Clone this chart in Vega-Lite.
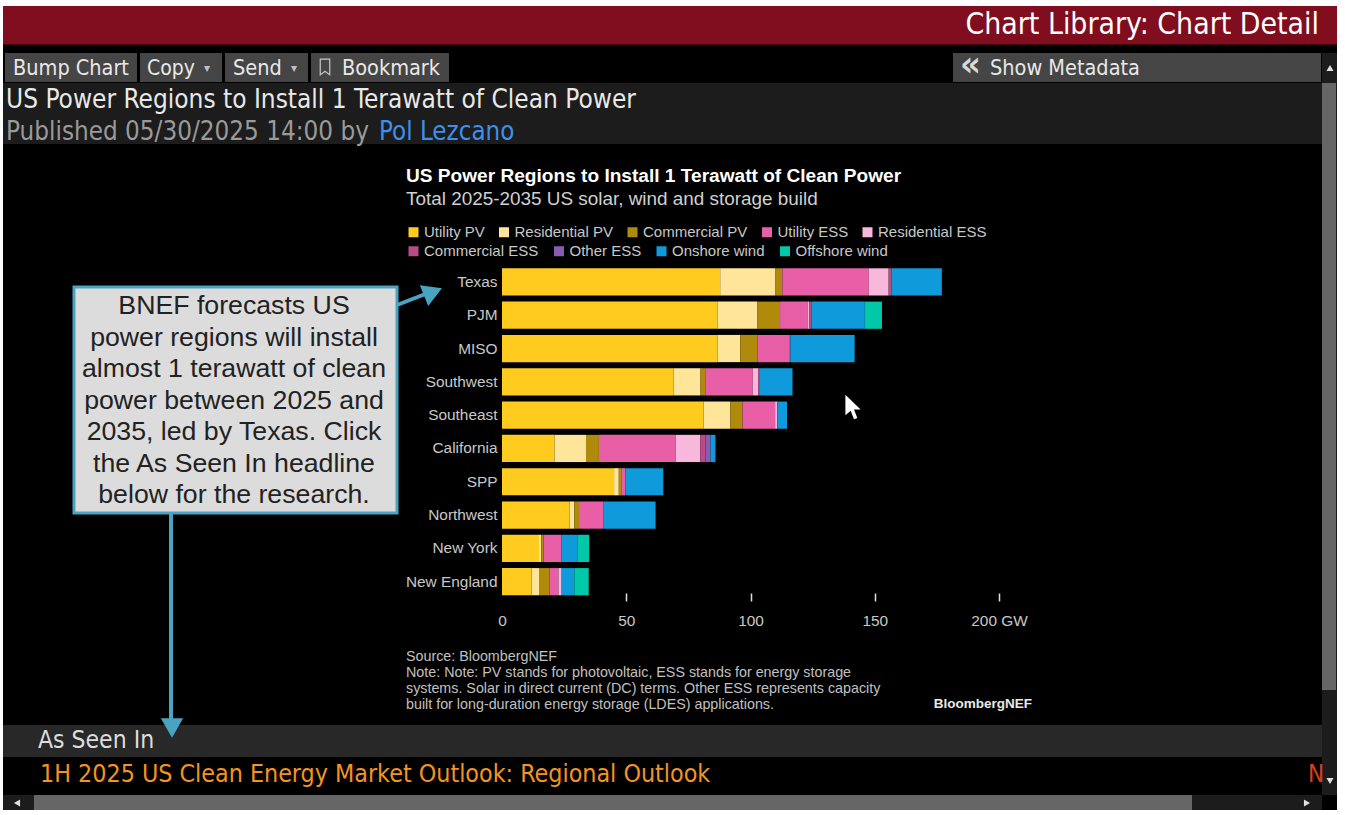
{"$schema":"https://vega.github.io/schema/vega-lite/v6.json","width":1345,"height":815,"padding":0,"autosize":{"type":"none"},"background":"#ffffff","view":{"stroke":null},
"resolve":{"legend":{"color":"independent"}},
"datasets":{"bars":[{"region":"Texas","type":"Utility PV","ord":1,"gw":87.8},{"region":"Texas","type":"Residential PV","ord":2,"gw":22.1},{"region":"Texas","type":"Commercial PV","ord":3,"gw":2.9},{"region":"Texas","type":"Utility ESS","ord":4,"gw":34.8},{"region":"Texas","type":"Residential ESS","ord":5,"gw":8.0},{"region":"Texas","type":"Commercial ESS","ord":6,"gw":1.1},{"region":"Texas","type":"Onshore wind","ord":8,"gw":20.3},
{"region":"PJM","type":"Utility PV","ord":1,"gw":86.7},{"region":"PJM","type":"Residential PV","ord":2,"gw":16.1},{"region":"PJM","type":"Commercial PV","ord":3,"gw":9.1},{"region":"PJM","type":"Utility ESS","ord":4,"gw":11.2},{"region":"PJM","type":"Residential ESS","ord":5,"gw":0.6},{"region":"PJM","type":"Commercial ESS","ord":6,"gw":0.9},{"region":"PJM","type":"Onshore wind","ord":8,"gw":21.4},{"region":"PJM","type":"Offshore wind","ord":9,"gw":6.9},
{"region":"MISO","type":"Utility PV","ord":1,"gw":86.7},{"region":"MISO","type":"Residential PV","ord":2,"gw":9.2},{"region":"MISO","type":"Commercial PV","ord":3,"gw":6.9},{"region":"MISO","type":"Utility ESS","ord":4,"gw":12.8},{"region":"MISO","type":"Residential ESS","ord":5,"gw":0.2},{"region":"MISO","type":"Commercial ESS","ord":6,"gw":0.2},{"region":"MISO","type":"Onshore wind","ord":8,"gw":25.9},
{"region":"Southwest","type":"Utility PV","ord":1,"gw":69.0},{"region":"Southwest","type":"Residential PV","ord":2,"gw":10.9},{"region":"Southwest","type":"Commercial PV","ord":3,"gw":1.9},{"region":"Southwest","type":"Utility ESS","ord":4,"gw":19.1},{"region":"Southwest","type":"Residential ESS","ord":5,"gw":2.3},{"region":"Southwest","type":"Commercial ESS","ord":6,"gw":0.6},{"region":"Southwest","type":"Onshore wind","ord":8,"gw":13.1},
{"region":"Southeast","type":"Utility PV","ord":1,"gw":81.1},{"region":"Southeast","type":"Residential PV","ord":2,"gw":10.8},{"region":"Southeast","type":"Commercial PV","ord":3,"gw":4.9},{"region":"Southeast","type":"Utility ESS","ord":4,"gw":13.1},{"region":"Southeast","type":"Residential ESS","ord":5,"gw":0.9},{"region":"Southeast","type":"Commercial ESS","ord":6,"gw":0.2},{"region":"Southeast","type":"Onshore wind","ord":8,"gw":3.7},
{"region":"California","type":"Utility PV","ord":1,"gw":21.2},{"region":"California","type":"Residential PV","ord":2,"gw":12.6},{"region":"California","type":"Commercial PV","ord":3,"gw":5.2},{"region":"California","type":"Utility ESS","ord":4,"gw":30.9},{"region":"California","type":"Residential ESS","ord":5,"gw":9.9},{"region":"California","type":"Commercial ESS","ord":6,"gw":2.1},{"region":"California","type":"Other ESS","ord":7,"gw":2.0},{"region":"California","type":"Onshore wind","ord":8,"gw":2.0},
{"region":"SPP","type":"Utility PV","ord":1,"gw":45.1},{"region":"SPP","type":"Residential PV","ord":2,"gw":1.9},{"region":"SPP","type":"Commercial PV","ord":3,"gw":1.0},{"region":"SPP","type":"Utility ESS","ord":4,"gw":1.7},{"region":"SPP","type":"Onshore wind","ord":8,"gw":15.2},
{"region":"Northwest","type":"Utility PV","ord":1,"gw":27.2},{"region":"Northwest","type":"Residential PV","ord":2,"gw":1.9},{"region":"Northwest","type":"Commercial PV","ord":3,"gw":1.9},{"region":"Northwest","type":"Utility ESS","ord":4,"gw":9.9},{"region":"Northwest","type":"Onshore wind","ord":8,"gw":20.9},
{"region":"New York","type":"Utility PV","ord":1,"gw":14.9},{"region":"New York","type":"Residential PV","ord":2,"gw":0.9},{"region":"New York","type":"Commercial PV","ord":3,"gw":0.9},{"region":"New York","type":"Utility ESS","ord":4,"gw":7.2},{"region":"New York","type":"Onshore wind","ord":8,"gw":6.6},{"region":"New York","type":"Offshore wind","ord":9,"gw":4.6},
{"region":"New England","type":"Utility PV","ord":1,"gw":11.9},{"region":"New England","type":"Residential PV","ord":2,"gw":3.0},{"region":"New England","type":"Commercial PV","ord":3,"gw":4.2},{"region":"New England","type":"Utility ESS","ord":4,"gw":3.6},{"region":"New England","type":"Residential ESS","ord":5,"gw":1.3},{"region":"New England","type":"Onshore wind","ord":8,"gw":5.1},{"region":"New England","type":"Offshore wind","ord":9,"gw":5.8}]},
"title":{"text":"US Power Regions to Install 1 Terawatt of Clean Power","subtitle":"Total 2025-2035 US solar, wind and storage build","anchor":"start","frame":"group","dx":406,"dy":209,"font":"Liberation Sans","fontSize":19.1,"fontWeight":"bold","color":"#ffffff","subtitleFont":"Liberation Sans","subtitleFontSize":18.9,"subtitleColor":"#d0d0d0","subtitlePadding":4,"orient":"top","offset":0},
"layer":[
{"data":{"values":[{"part":"window"}]},"mark":{"type":"rect","color":"#000000"},"encoding":{"x":{"value":3},"x2":{"value":1337},"y":{"value":44},"y2":{"value":810}}},
{"data":{"values":[{"part":"title bar"}]},"mark":{"type":"rect","color":"#800E1F"},"encoding":{"x":{"value":3},"x2":{"value":1337},"y":{"value":6},"y2":{"value":44.5}}},
{"data":{"values":[{"part":"Bump"}]},"mark":{"type":"rect","color":"#454545"},"encoding":{"x":{"value":5},"x2":{"value":137},"y":{"value":53},"y2":{"value":82}}},
{"data":{"values":[{"part":"Copy"}]},"mark":{"type":"rect","color":"#454545"},"encoding":{"x":{"value":140},"x2":{"value":222},"y":{"value":53},"y2":{"value":82}}},
{"data":{"values":[{"part":"Send"}]},"mark":{"type":"rect","color":"#454545"},"encoding":{"x":{"value":225},"x2":{"value":308},"y":{"value":53},"y2":{"value":82}}},
{"data":{"values":[{"part":"Bookmark"}]},"mark":{"type":"rect","color":"#454545"},"encoding":{"x":{"value":311},"x2":{"value":449},"y":{"value":53},"y2":{"value":82}}},
{"data":{"values":[{"part":"Metadata"}]},"mark":{"type":"rect","color":"#454545"},"encoding":{"x":{"value":953},"x2":{"value":1321},"y":{"value":53},"y2":{"value":82}}},
{"data":{"values":[{"part":"header strip"}]},"mark":{"type":"rect","color":"#1C1C1C"},"encoding":{"x":{"value":3},"x2":{"value":1322},"y":{"value":83},"y2":{"value":144}}},
{"data":{"values":[{"part":"seen strip"}]},"mark":{"type":"rect","color":"#282828"},"encoding":{"x":{"value":3},"x2":{"value":1322},"y":{"value":725},"y2":{"value":757}}},
{"data":{"values":[{"part":"v track"}]},"mark":{"type":"rect","color":"#1C1C1C"},"encoding":{"x":{"value":1322},"x2":{"value":1337},"y":{"value":53},"y2":{"value":795}}},
{"data":{"values":[{"part":"v thumb"}]},"mark":{"type":"rect","color":"#666666"},"encoding":{"x":{"value":1322},"x2":{"value":1336},"y":{"value":83},"y2":{"value":690}}},
{"data":{"values":[{"part":"h track"}]},"mark":{"type":"rect","color":"#1C1C1C"},"encoding":{"x":{"value":3},"x2":{"value":1322},"y":{"value":795},"y2":{"value":810}}},
{"data":{"values":[{"part":"h thumb"}]},"mark":{"type":"rect","color":"#666666"},"encoding":{"x":{"value":34},"x2":{"value":1192},"y":{"value":795},"y2":{"value":810}}},
{"data":{"values":[{"part":"up"}]},"mark":{"type":"point","shape":"triangle-up","filled":true,"color":"#e0e0e0","size":50,"opacity":1},"encoding":{"x":{"value":1330},"y":{"value":68}}},
{"data":{"values":[{"part":"down"}]},"mark":{"type":"point","shape":"triangle-down","filled":true,"color":"#e0e0e0","size":50,"opacity":1},"encoding":{"x":{"value":1330},"y":{"value":781}}},
{"data":{"values":[{"part":"left"}]},"mark":{"type":"point","shape":"triangle-left","filled":true,"color":"#e0e0e0","size":50,"opacity":1},"encoding":{"x":{"value":17},"y":{"value":803}}},
{"data":{"values":[{"part":"right"}]},"mark":{"type":"point","shape":"triangle-right","filled":true,"color":"#e0e0e0","size":50,"opacity":1},"encoding":{"x":{"value":1307},"y":{"value":803}}},
{"data":{"values":[{"label":"Chart Library: Chart Detail"}]},"mark":{"type":"text","font":"DejaVu Sans Condensed","fontSize":29.9,"color":"#ffffff","align":"right","baseline":"middle"},"encoding":{"x":{"value":1319},"y":{"value":25},"text":{"field":"label"}}},
{"data":{"values":[{"label":"Bump Chart"}]},"mark":{"type":"text","font":"DejaVu Sans Condensed","fontSize":21.5,"color":"#e8e8e8","align":"left","baseline":"middle"},"encoding":{"x":{"value":13},"y":{"value":68.5},"text":{"field":"label"}}},
{"data":{"values":[{"label":"Copy"}]},"mark":{"type":"text","font":"DejaVu Sans Condensed","fontSize":21,"color":"#e8e8e8","align":"left","baseline":"middle"},"encoding":{"x":{"value":147},"y":{"value":68.5},"text":{"field":"label"}}},
{"data":{"values":[{"label":"Send"}]},"mark":{"type":"text","font":"DejaVu Sans Condensed","fontSize":21.5,"color":"#e8e8e8","align":"left","baseline":"middle"},"encoding":{"x":{"value":233},"y":{"value":68.5},"text":{"field":"label"}}},
{"data":{"values":[{"label":"Bookmark"}]},"mark":{"type":"text","font":"DejaVu Sans Condensed","fontSize":21.5,"color":"#e8e8e8","align":"left","baseline":"middle"},"encoding":{"x":{"value":342},"y":{"value":68.5},"text":{"field":"label"}}},
{"data":{"values":[{"label":"Show Metadata"}]},"mark":{"type":"text","font":"DejaVu Sans Condensed","fontSize":21.5,"color":"#e8e8e8","align":"left","baseline":"middle"},"encoding":{"x":{"value":990},"y":{"value":68.5},"text":{"field":"label"}}},
{"data":{"values":[{"label":"«"}]},"mark":{"type":"text","font":"DejaVu Sans Condensed","fontSize":36,"fontWeight":"bold","color":"#d8d8d8","align":"left","baseline":"middle"},"encoding":{"x":{"value":960},"y":{"value":65},"text":{"field":"label"}}},
{"data":{"values":[{"label":"▾"}]},"mark":{"type":"text","font":"DejaVu Sans","fontSize":12,"color":"#c0c0c0","align":"center","baseline":"middle"},"encoding":{"x":{"value":207},"y":{"value":68},"text":{"field":"label"}}},
{"data":{"values":[{"label":"▾"}]},"mark":{"type":"text","font":"DejaVu Sans","fontSize":12,"color":"#c0c0c0","align":"center","baseline":"middle"},"encoding":{"x":{"value":294},"y":{"value":68},"text":{"field":"label"}}},
{"data":{"values":[{"part":"bookmark icon"}]},"mark":{"type":"point","shape":"M-0.6,-1L0.6,-1L0.6,1L0,0.55L-0.6,1Z","filled":false,"color":"#c8c8c8","strokeWidth":1.2,"size":250,"opacity":1},"encoding":{"x":{"value":325},"y":{"value":67}}},
{"data":{"values":[{"label":"US Power Regions to Install 1 Terawatt of Clean Power"}]},"mark":{"type":"text","font":"DejaVu Sans Condensed","fontSize":26,"color":"#e8e8e8","align":"left","baseline":"middle"},"encoding":{"x":{"value":6},"y":{"value":100},"text":{"field":"label"}}},
{"data":{"values":[{"label":"Published 05/30/2025 14:00 by"}]},"mark":{"type":"text","font":"DejaVu Sans Condensed","fontSize":25.8,"color":"#9a9a9a","align":"left","baseline":"middle"},"encoding":{"x":{"value":6},"y":{"value":132},"text":{"field":"label"}}},
{"data":{"values":[{"label":"Pol Lezcano"}]},"mark":{"type":"text","font":"DejaVu Sans Condensed","fontSize":25.7,"color":"#3f8fef","align":"left","baseline":"middle"},"encoding":{"x":{"value":379},"y":{"value":132},"text":{"field":"label"}}},
{"data":{"values":[{"label":"As Seen In"}]},"mark":{"type":"text","font":"DejaVu Sans Condensed","fontSize":24.5,"color":"#dddddd","align":"left","baseline":"middle"},"encoding":{"x":{"value":38},"y":{"value":741},"text":{"field":"label"}}},
{"data":{"values":[{"label":"1H 2025 US Clean Energy Market Outlook: Regional Outlook"}]},"mark":{"type":"text","font":"DejaVu Sans Condensed","fontSize":24.8,"color":"#F39420","align":"left","baseline":"middle"},"encoding":{"x":{"value":40},"y":{"value":775},"text":{"field":"label"}}},
{"data":{"values":[{"label":"N"}]},"mark":{"type":"text","font":"DejaVu Sans Condensed","fontSize":24,"color":"#D8401C","align":"left","baseline":"middle"},"encoding":{"x":{"value":1308},"y":{"value":775},"text":{"field":"label"}}},
{"data":{"name":"bars"},
"transform":[{"stack":"gw","groupby":["region"],"sort":[{"field":"ord","order":"ascending"}],"as":["gw_start","gw_end"]},{"filter":{"field":"type","oneOf":["Utility PV","Residential PV","Commercial PV","Utility ESS","Residential ESS"]}}],
"mark":{"type":"bar"},
"encoding":{
"x":{"field":"gw_start","type":"quantitative","title":null,"scale":{"domain":[0,200],"range":[502,999],"nice":false,"zero":true},"axis":{"values":[0,50,100,150,200],"grid":false,"domain":false,"zindex":1,"offset":-222,"tickSize":8,"tickWidth":1.5,"tickColor":"#dddddd","tickOpacity":{"condition":{"test":"datum.value===0","value":0},"value":1},"labelPadding":12,"labelFlush":false,"labelFont":"Liberation Sans","labelFontSize":15.4,"labelColor":"#c8c8c8","labelExpr":"datum.value===200 ? '200 GW' : datum.label","title":null}},
"x2":{"field":"gw_end"},
"y":{"field":"region","type":"nominal","title":null,"sort":["Texas","PJM","MISO","Southwest","Southeast","California","SPP","Northwest","New York","New England"],"scale":{"domain":["Texas","PJM","MISO","Southwest","Southeast","California","SPP","Northwest","New York","New England"],"range":[268.3,595.3],"paddingInner":0.183,"paddingOuter":0},"axis":{"domain":false,"ticks":false,"zindex":1,"offset":-497,"labelPadding":0,"labelFont":"Liberation Sans","labelFontSize":15.4,"labelColor":"#c8c8c8","title":null}},
"color":{"field":"type","type":"nominal","scale":{"domain":["Utility PV","Residential PV","Commercial PV","Utility ESS","Residential ESS","Commercial ESS","Other ESS","Onshore wind","Offshore wind"],"range":["#FFCB1F","#FFE599","#B08A0A","#E85FA8","#F7B8DC","#B84C85","#8A5CB0","#0E9ADB","#00C8A8"]},"legend":{"orient":"none","direction":"horizontal","legendX":406,"legendY":224.5,"title":null,"values":["Utility PV","Residential PV","Commercial PV","Utility ESS","Residential ESS"],"symbolType":"square","symbolSize":100,"symbolStrokeWidth":0,"labelFont":"Liberation Sans","labelFontSize":15,"labelColor":"#c8c8c8","labelOffset":3,"columnPadding":11.5}}}},
{"data":{"name":"bars"},
"transform":[{"stack":"gw","groupby":["region"],"sort":[{"field":"ord","order":"ascending"}],"as":["gw_start","gw_end"]},{"filter":{"field":"type","oneOf":["Commercial ESS","Other ESS","Onshore wind","Offshore wind"]}}],
"mark":{"type":"bar"},
"encoding":{
"x":{"field":"gw_start","type":"quantitative","title":null,"scale":{"domain":[0,200],"range":[502,999],"nice":false,"zero":true},"axis":{"values":[0,50,100,150,200],"grid":false,"domain":false,"zindex":1,"offset":-222,"tickSize":8,"tickWidth":1.5,"tickColor":"#dddddd","tickOpacity":{"condition":{"test":"datum.value===0","value":0},"value":1},"labelPadding":12,"labelFlush":false,"labelFont":"Liberation Sans","labelFontSize":15.4,"labelColor":"#c8c8c8","labelExpr":"datum.value===200 ? '200 GW' : datum.label","title":null}},
"x2":{"field":"gw_end"},
"y":{"field":"region","type":"nominal","title":null,"sort":["Texas","PJM","MISO","Southwest","Southeast","California","SPP","Northwest","New York","New England"],"scale":{"domain":["Texas","PJM","MISO","Southwest","Southeast","California","SPP","Northwest","New York","New England"],"range":[268.3,595.3],"paddingInner":0.183,"paddingOuter":0},"axis":{"domain":false,"ticks":false,"zindex":1,"offset":-497,"labelPadding":0,"labelFont":"Liberation Sans","labelFontSize":15.4,"labelColor":"#c8c8c8","title":null}},
"color":{"field":"type","type":"nominal","scale":{"domain":["Utility PV","Residential PV","Commercial PV","Utility ESS","Residential ESS","Commercial ESS","Other ESS","Onshore wind","Offshore wind"],"range":["#FFCB1F","#FFE599","#B08A0A","#E85FA8","#F7B8DC","#B84C85","#8A5CB0","#0E9ADB","#00C8A8"]},"legend":{"orient":"none","direction":"horizontal","legendX":406,"legendY":243.5,"title":null,"values":["Commercial ESS","Other ESS","Onshore wind","Offshore wind"],"symbolType":"square","symbolSize":100,"symbolStrokeWidth":0,"labelFont":"Liberation Sans","labelFontSize":15,"labelColor":"#c8c8c8","labelOffset":3,"columnPadding":12.5}}}},
{"data":{"values":[{"label":"Source: BloombergNEF\nNote: Note: PV stands for photovoltaic, ESS stands for energy storage\nsystems. Solar in direct current (DC) terms. Other ESS represents capacity\nbuilt for long-duration energy storage (LDES) applications."}]},"mark":{"type":"text","font":"Liberation Sans","fontSize":14.3,"color":"#c0c0c0","align":"left","baseline":"top","lineBreak":"\n","lineHeight":16},"encoding":{"x":{"value":406},"y":{"value":650},"text":{"field":"label"}}},
{"data":{"values":[{"label":"BloombergNEF"}]},"mark":{"type":"text","font":"Liberation Sans","fontSize":13.5,"fontWeight":"bold","color":"#e8e8e8","align":"right","baseline":"middle"},"encoding":{"x":{"value":1032},"y":{"value":704},"text":{"field":"label"}}},
{"data":{"values":[{"part":"pointer"}]},"mark":{"type":"point","shape":"M-0.65,-1L-0.65,0.55L-0.25,0.2L0,0.85L0.25,0.75L0,0.12L0.5,0.12Z","filled":true,"color":"#ffffff","size":700,"opacity":1,"strokeWidth":0},"encoding":{"x":{"value":854},"y":{"value":408}}},
{"data":{"values":[{"part":"callout box"}]},"mark":{"type":"rect","fill":"#DCDCDC","stroke":"#4AA3C0","strokeWidth":3},"encoding":{"x":{"value":74},"x2":{"value":397},"y":{"value":287},"y2":{"value":513}}},
{"data":{"values":[{"label":"BNEF forecasts US\npower regions will install\nalmost 1 terawatt of clean\npower between 2025 and\n2035, led by Texas. Click\nthe As Seen In headline\nbelow for the research."}]},"mark":{"type":"text","font":"Liberation Sans","fontSize":26.7,"color":"#222222","align":"center","baseline":"middle","lineBreak":"\n","lineHeight":31.5},"encoding":{"x":{"value":234},"y":{"value":306},"text":{"field":"label"}}},
{"data":{"values":[{"part":"arrow to Texas"}]},"mark":{"type":"rule","color":"#4AA3C0","strokeWidth":4},"encoding":{"x":{"value":397},"y":{"value":305},"x2":{"value":428},"y2":{"value":293}}},
{"data":{"values":[{"part":"arrow head Texas"}]},"mark":{"type":"point","shape":"triangle-up","filled":true,"color":"#4AA3C0","size":500,"angle":68,"opacity":1},"encoding":{"x":{"value":433},"y":{"value":292}}},
{"data":{"values":[{"part":"arrow to As Seen In"}]},"mark":{"type":"rule","color":"#4AA3C0","strokeWidth":4},"encoding":{"x":{"value":171},"y":{"value":514},"x2":{"value":171},"y2":{"value":720}}},
{"data":{"values":[{"part":"arrow head As Seen In"}]},"mark":{"type":"point","shape":"triangle-down","filled":true,"color":"#4AA3C0","size":500,"opacity":1},"encoding":{"x":{"value":172},"y":{"value":728}}}
]}
